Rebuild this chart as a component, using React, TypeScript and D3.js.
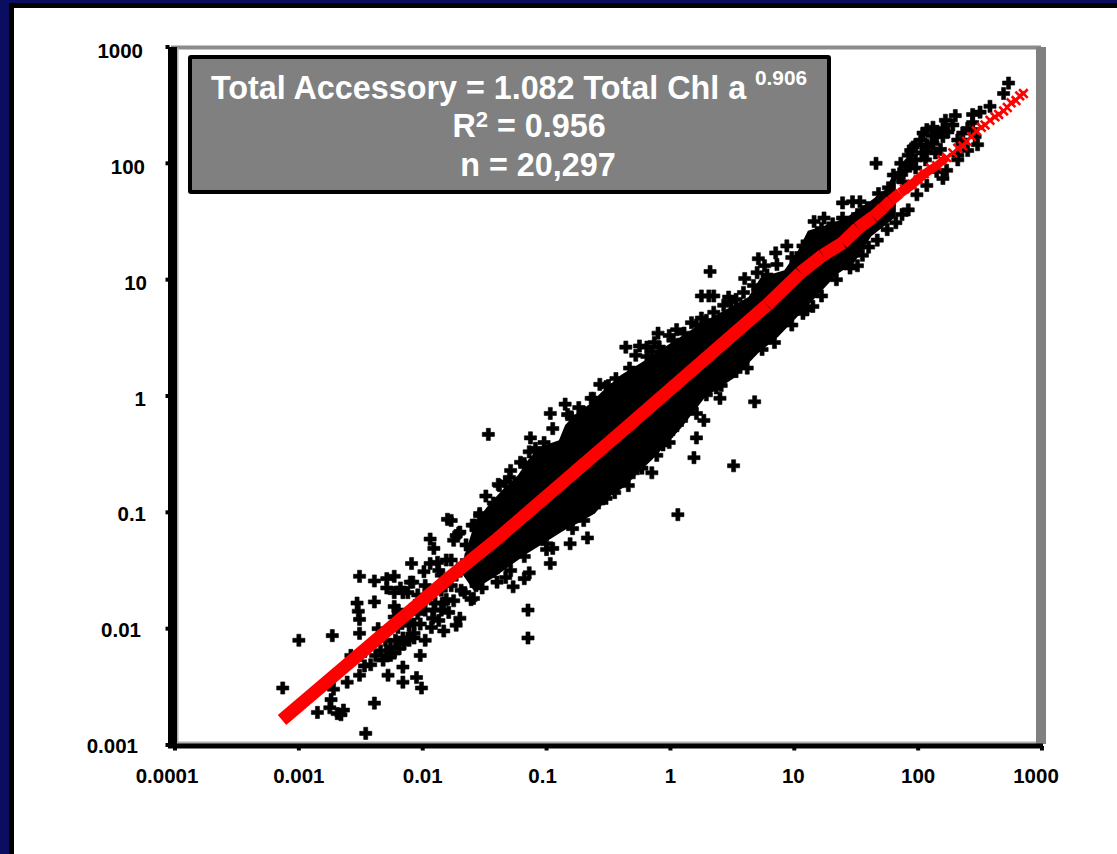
import React from "react";
import * as d3 from "d3";

// All series values are log10 of the axis value: [log10 Chl a, log10 Accessory]
const sparseTail: [number, number][] = [
  [-3.0,-2.1],[-2.73,-2.06],[-3.13,-2.51],[-2.51,-1.55],[-2.39,-1.59],[-2.29,-1.57],[-2.23,-1.55],[-2.39,-1.77],
  [-2.53,-1.78],[-2.52,-1.85],[-2.51,-1.92],[-2.51,-2.04],[-2.36,-2.0],[-2.39,-2.64],[-2.46,-2.9],[-2.16,-2.33],
  [-2.28,-2.4],[-2.16,-2.46],[-2.05,-2.42],[-2.01,-2.51],[-2.85,-2.72],[-2.74,-2.61],[-2.75,-2.68],[-2.69,-2.73],
  [-2.64,-2.7],[-2.66,-2.74],[-2.72,-2.52],[-2.61,-2.46],[-2.51,-2.4],[-2.47,-2.32],[-2.58,-2.23],[-2.29,-2.23],
  [-2.23,-2.21],[-2.15,-2.13],[-2.12,-2.08],[-2.02,-2.23],[-1.98,-2.1],[-2.07,-2.08],[-2.2,-1.84],[-2.23,-1.69],
  [-2.16,-1.69],[-2.08,-1.6],[-1.99,-1.51],[-1.92,-1.91],[-1.83,-2.02],[-1.9,-1.78],[-2.02,-1.96],[-2.2,-1.99],
  [-2.34,-2.19],[-2.11,-1.97],[-2.04,-1.87],[-2.09,-1.44],[-1.94,-1.23],[-1.91,-1.31],[-1.8,-1.06],[-2.29,-1.65],
  [-2.18,-1.65],[-2.1,-1.6],[-2.23,-1.81],[-2.12,-1.69],[-2.23,-1.9],[-2.04,-1.71],[-1.88,-1.43],[-1.81,-1.41],
  [-1.94,-1.44],[-1.73,-1.2],[-1.75,-1.24],[-1.7,-1.17],[-1.54,-1.01],[-1.49,-0.86],[-1.38,-0.77],[-1.58,-1.11],
  [-2.32,-2.27],[-2.26,-2.23],[-2.19,-2.17],[-2.11,-2.1],[-1.73,-1.97],[-1.7,-1.91],[-1.59,-1.74],[-1.52,-1.65],
  [-1.4,-1.6],[-1.27,-1.64],[-1.18,-1.57],[-1.33,-1.56],[-1.15,-1.84],[-1.15,-2.08],[-1.44,-1.5],[-1.66,-1.69],
  [-1.79,-1.86],[-1.87,-1.93],[-1.93,-1.99],[-2.07,-1.96],[-1.83,-1.78],[-1.75,-1.76],[-1.91,-1.84],[-2.07,-2.04],
  [-2.16,-2.08],[-2.26,-2.16],
  [-1.95,-1.67],[-1.98,-1.84],[-1.85,-1.84],[-2.06,-1.8],[-2.14,-1.93],[-2.22,-2.1],[-2.3,-2.1],[-2.38,-2.23],
  [-2.42,-2.31],[-2.5,-2.23],[-1.87,-1.5],[-1.98,-1.63],
  [-1.77,-1.41],[-1.85,-1.67],[-1.73,-1.54],[-1.68,-1.45],[-1.61,-1.37],[-1.81,-1.75],[-1.69,-1.67],[-1.61,-1.54],
  [-1.53,-1.5],[-1.77,-1.63],[-1.85,-1.54],[-1.65,-1.28],[-1.57,-1.15],
];

const upperEdge: [number, number][] = [
  [-1.47,-0.33],[-0.85,-0.07],[-0.97,-0.15],[-0.95,-0.28],[-1.13,-0.36],[-1.02,-0.4],[-1.14,-0.48],[-1.18,-0.58],
  [-1.39,-0.76],[-1.54,-1.03],[-1.77,-1.07],[-1.71,-1.18],[-0.64,-0.02],[-0.5,0.09],[-0.57,0.1],[-0.36,0.42],
  [-0.25,0.43],[-0.19,0.42],[-0.13,0.46],[-0.1,0.54],[-0.01,0.52],[0.05,0.57],[0.17,0.63],[0.25,0.67],[0.25,0.86],
  [0.31,0.86],[0.35,0.86],[0.47,0.85],[0.32,1.07],[0.6,1.01],[0.7,1.06],[0.71,1.18],[0.76,1.12],[0.85,1.23],
  [0.94,1.29],[1.02,1.19],[1.07,1.29],[1.16,1.5],[1.24,1.53],[1.31,1.48],[1.39,1.66],[1.47,1.67],[1.53,1.67],
  [1.66,2.0],[1.68,1.74],[1.76,1.79],[1.84,1.88],[1.85,1.91],[1.86,2.0],[1.9,1.94],[1.92,2.07],[1.94,2.01],
  [1.96,2.14],[2.02,2.2],[2.03,2.09],[2.04,2.26],[2.08,2.14],[2.12,2.31],[2.12,2.17],[2.15,2.23],[2.2,2.23],
  [2.22,2.37],[2.24,2.27],[2.3,2.41],[2.36,2.26],[2.4,2.11],[2.32,2.07],[2.44,2.35],[2.44,2.42],[2.46,2.23],
  [2.48,2.16],[2.5,2.44],[2.58,2.49],[2.69,2.6],[2.73,2.69],[2.2,1.87],[2.23,1.94],[2.06,2.03],[2.14,2.09],
  [1.98,2.03],[1.88,1.84],
  [-1.6,-1.11],[-1.43,-0.92],[-1.3,-0.7],[-0.8,-0.18],[-0.7,-0.14],[-0.48,0.05],
  [-0.28,0.35],[-0.15,0.38],[0.11,0.54],[0.29,0.65],[0.43,0.78],[0.53,0.83],[0.67,0.95],[0.78,1.04],[0.86,1.13],
  [0.98,1.19],[1.1,1.24],[1.18,1.38],[1.22,1.44],[1.39,1.53],[1.51,1.56],[1.59,1.62],[1.71,1.7],
  [1.98,2.16],[2.07,2.16],[2.11,2.24],[2.2,2.3],[1.91,1.98],[1.98,1.96],[2.07,2.1],[2.15,2.27],[2.28,2.33],
  [2.07,2.29],[2.18,2.12],[1.94,2.11],[1.8,1.9],[2.36,2.2],[2.44,2.29],[2.4,2.3],[2.32,2.2],
  [-0.83,-0.16],[-0.74,-0.1],[-0.62,-0.02],[-0.52,0.08],[-0.44,0.15],[-0.33,0.24],[-0.19,0.34],[-0.09,0.42],
  [0.02,0.48],[0.21,0.61],[0.35,0.72],[0.49,0.81],[0.59,0.89],[-1.29,-0.64],[-1.21,-0.57],[-1.09,-0.45],[-1.33,-0.74],
];

const lowerEdge: [number, number][] = [
  [-0.67,-1.22],[-0.81,-1.27],[-0.97,-1.44],[-1.14,-1.52],[-0.95,-1.31],[-1.0,-1.27],[-0.79,-1.14],[-0.7,-1.07],
  [-0.34,-0.77],[-0.3,-0.66],[-0.15,-0.66],[0.19,-0.53],[0.21,-0.36],[0.51,-0.6],[0.06,-1.02],[-0.01,-0.4],
  [0.27,-0.21],[0.4,-0.02],[0.68,-0.05],[0.21,-0.15],[0.84,0.46],[1.07,0.71],[1.15,0.77],[1.51,1.12],[1.82,1.49],
  [1.92,1.6],[1.6,1.28],
  [-1.0,-1.32],[-1.18,-1.38],[-1.43,-1.51],[-0.58,-0.92],[-0.45,-0.83],[-1.29,-1.5],[-1.57,-1.63],[-1.61,-1.75],
  [-0.03,-0.34],[0.09,-0.21],[0.29,0.01],[0.41,0.09],[0.53,0.21],[0.62,0.24],[0.74,0.4],[0.98,0.61],[1.1,0.74],
  [1.22,0.86],[1.34,1.0],[1.45,1.1],[1.55,1.21],[1.67,1.34],[1.75,1.43],[1.87,1.56],[1.99,1.73],[2.07,1.81],
  [2.15,1.93],[2.32,2.03],
  [-0.11,-0.51],[-0.06,-0.42],[0.02,-0.29],[0.17,-0.1],[0.37,0.07],[-0.23,-0.62],[-0.52,-0.88],
];

// Solid core of the cloud: the upper then lower outline, where the points merge into black
const coreUpper: [number, number][] = [
  [-1.7,-1.5],[-1.58,-1.09],[-1.47,-0.94],[-1.36,-0.81],[-1.23,-0.68],[-1.15,-0.55],[-1.06,-0.44],
  [-0.9,-0.38],[-0.85,-0.25],[-0.77,-0.16],[-0.64,-0.06],[-0.56,0.03],[-0.4,0.18],[-0.23,0.29],[-0.05,0.42],
  [0.17,0.57],[0.39,0.71],[0.63,0.85],[0.73,1.02],[0.92,1.08],[1.03,1.25],[1.11,1.42],[1.32,1.49],[1.44,1.55],
  [1.62,1.68],[1.73,1.77],[1.82,1.94],
];
const coreLower: [number, number][] = [
  [1.82,1.54],[1.62,1.37],[1.48,1.14],[1.35,1.05],[1.05,0.71],[0.87,0.51],[0.71,0.37],[0.52,0.16],[0.28,-0.01],
  [0.09,-0.27],[-0.15,-0.55],[-0.26,-0.66],[-0.37,-0.78],[-0.5,-0.87],[-0.61,-1.01],[-0.74,-1.09],[-0.85,-1.15],
  [-1.03,-1.27],[-1.15,-1.35],[-1.4,-1.54],[-1.59,-1.67],
];

// Fit line, thick part and the stretch drawn as separate thick dashes
const fitMain: [number, number][] = [[-3.136,-2.785],[-1.78,-1.556],[-1.4,-1.229],[-0.342,-0.258],[0.78,0.782]];
const fitPieces: [number, number][] = [
  [0.78,0.782],[1.05,1.06],[1.23,1.21],[1.39,1.315],[1.515,1.444],[1.636,1.539],[1.716,1.616],[1.78,1.68],[1.854,1.745],
  [1.95,1.82],[2.05,1.91],[2.15,1.98],[2.23,2.05],
];
const fitCrosses: [number, number][] = [
  [1.89,1.78],[1.95,1.82],[2.0,1.86],[2.05,1.91],[2.1,1.96],[2.15,1.98],[2.19,2.03],[2.23,2.05],[2.28,2.09],
  [2.32,2.13],[2.36,2.15],[2.39,2.19],[2.43,2.23],[2.47,2.28],[2.51,2.31],[2.54,2.33],[2.58,2.37],[2.62,2.4],
  [2.65,2.42],[2.69,2.45],[2.72,2.48],[2.75,2.52],[2.79,2.54],[2.82,2.58],[2.85,2.6],
];

const xTicks = [0.0001, 0.001, 0.01, 0.1, 1, 10, 100, 1000];
const yTicks = [0.001, 0.01, 0.1, 1, 10, 100, 1000];
const xTickLabels = ["0.0001", "0.001", "0.01", "0.1", "1", "10", "100", "1000"];
const yTickLabels = ["0.001", "0.01", "0.1", "1", "10", "100", "1000"];
const xLabelNudge = [-8, 0, 0, -4, 0, -1, 0, -6];
const yLabelRight = [138, 141, 146, 146, 147, 145, 143];

const equationText = "Total Accessory = 1.082 Total Chl a";
const exponentText = "0.906";
const rText = "0.956";
const nText = "n = 20,297";

const NAVY = "#0a0d60";
const FONT = "'Liberation Sans', Arial, sans-serif";

export default function App() {
  const x = d3.scaleLog().domain([1e-4, 1e3]).range([175, 1042]);
  const y = d3.scaleLog().domain([1e-3, 1e3]).range([745, 47]);
  const yLabel = d3.scaleLog().domain([1e-3, 1e3]).range([753, 58]);
  const X = (p: [number, number]) => x(Math.pow(10, p[0]));
  const Y = (p: [number, number]) => y(Math.pow(10, p[1]));
  const line = d3.line<[number, number]>().x(X).y(Y);
  const plus = d3.symbol(d3.symbolCross, 82)()!;
  const times = d3.symbol(d3.symbolTimes, 50)()!;
  const allPoints = [...sparseTail, ...upperEdge, ...lowerEdge];
  const pieces = d3.pairs(fitPieces);

  return (
    <svg width={1117} height={854} style={{ position: "absolute", left: 0, top: 0, display: "block" }} fontFamily={FONT}>
      <rect x={0} y={0} width={1117} height={854} fill={NAVY} />
      <rect x={9} y={3} width={1108} height={851} fill="#000" />
      <rect x={14} y={8} width={1103} height={846} fill="#fff" />

      {/* plot frame */}
      <rect x={171} y={45.5} width={870} height={4} fill="#8c8c8c" />
      <rect x={1036} y={47} width={10} height={697} fill="#808080" />
      <rect x={176} y={741.5} width={860} height={2.5} fill="#b0b0b0" />
      <rect x={177} y={48} width={1.5} height={695} fill="#b0b0b0" />
      <rect x={168} y={47} width={9} height={701} fill="#000" />
      <rect x={168} y={743.5} width={875} height={5} fill="#000" />
      {yTicks.map((t) => (
        <rect key={t} x={165.5} y={y(t) - 2} width={4} height={4} fill="#000" />
      ))}
      {xTicks.map((t) => (
        <rect key={t} x={x(t) - 2} y={746} width={4} height={4.5} fill="#000" />
      ))}

      {/* cloud */}
      <path d={(line([...coreUpper, ...coreLower]) ?? "") + "Z"} fill="#000" />
      {allPoints.map((p, i) => (
        <path key={i} d={plus} transform={`translate(${X(p)},${Y(p)})`} fill="#000" stroke="#000" strokeWidth={0.6} />
      ))}

      {/* fit */}
      <path d={line(fitMain) ?? ""} fill="none" stroke="#ff0000" strokeWidth={13} />
      {pieces.map((s, i) => (
        <path key={i} d={line(s) ?? ""} fill="none" stroke="#ff0000" strokeWidth={i < 5 ? 13 : 13 - (i - 4) * 0.7} />
      ))}
      {fitCrosses.map((p, i) => (
        <path key={i} d={times} transform={`translate(${X(p)},${Y(p)})`} fill="none" stroke="#ff0000" strokeWidth={2.6} />
      ))}

      {/* tick labels */}
      <g fontSize={20.5} fontWeight="bold" fill="#000">
        {xTicks.map((t, i) => (
          <text key={t} x={x(t) + xLabelNudge[i]} y={783} textAnchor="middle">{xTickLabels[i]}</text>
        ))}
        {yTicks.map((t, i) => (
          <text key={t} x={yLabelRight[i]} y={yLabel(t)} textAnchor="end">{yTickLabels[i]}</text>
        ))}
      </g>

      {/* equation box */}
      <rect x={190} y={57} width={639} height={135} fill="#808080" stroke="#000" strokeWidth={4} rx={1} />
      <g fill="#fff" fontWeight="bold" fontSize={32.3}>
        <text x={211} y={98.5}>{equationText}</text>
        <text x={755} y={85} fontSize={20.8}>{exponentText}</text>
        <text x={529} y={137} textAnchor="middle">
          R<tspan dy={-10} fontSize={22}>2</tspan><tspan dy={10}>{" = " + rText}</tspan>
        </text>
        <text x={538} y={176} textAnchor="middle">{nText}</text>
      </g>
    </svg>
  );
}
